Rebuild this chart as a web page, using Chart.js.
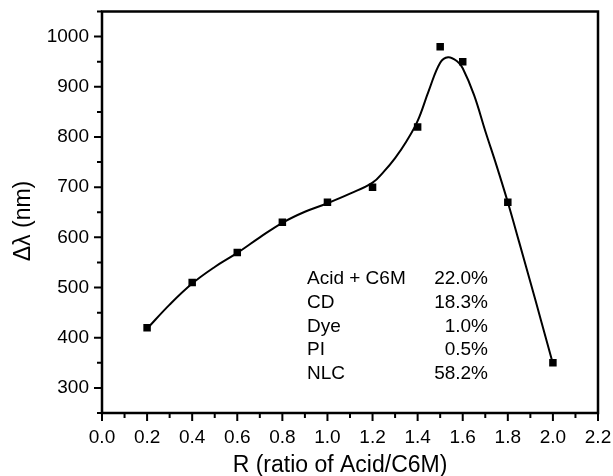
<!DOCTYPE html>
<html><head><meta charset="utf-8">
<script src="https://cdn.jsdelivr.net/npm/chart.js@4/dist/chart.umd.min.js"></script>
<style>html,body{margin:0;padding:0;background:#fff;}</style>
</head><body>
<canvas id="c" width="613" height="476"></canvas>
<script>
// measured points
const ratioR = [0.2, 0.4, 0.6, 0.8, 1.0, 1.2, 1.4, 1.5, 1.6, 1.8, 2.0];
const deltaLambda = [420, 510, 570, 630, 670, 700, 820, 980, 950, 670, 350];
// fitted smooth curve
const curveR = [0.2,0.3,0.4,0.5,0.6,0.7,0.8,0.9,1.0,1.1,1.2,1.25,1.3,1.35,1.4,1.45,1.5,1.535,1.575,1.6,1.65,1.7,1.75,1.8,1.85,1.9,1.95,2.0];
const curveVal = [418,466,508,541,569,600,629,651,668,687,709,731,758,791,832,893,948,959,951,937,884,812,743,670,591,511,430,348];
// axis ranges
const xRange = [0, 2.2];
const yRange = [250, 1050];
// text
const xTitle = 'R (ratio of Acid/C6M)';
const yTitle = '\u0394\u03bb (nm)';
const compNames = ['Acid + C6M', 'CD', 'Dye', 'PI', 'NLC'];
const compShares = ['22.0%', '18.3%', '1.0%', '0.5%', '58.2%'];

const FONT = '"Liberation Sans", Arial, sans-serif';

const frame = {
  id: 'frame',
  afterDraw(chart) {
    const {ctx, scales: {x, y}} = chart;
    const L = x.getPixelForValue(xRange[0]), R = x.getPixelForValue(xRange[1]);
    const T = y.getPixelForValue(yRange[1]), B = y.getPixelForValue(yRange[0]);
    ctx.save();
    ctx.strokeStyle = '#000';
    ctx.lineWidth = 2.5;
    ctx.beginPath();
    ctx.moveTo(L, T); ctx.lineTo(R, T); ctx.lineTo(R, B); ctx.lineTo(L, B); ctx.closePath();
    ctx.stroke();
    ctx.lineWidth = 2;
    ctx.beginPath();
    x.ticks.forEach(t => {
      const px = x.getPixelForValue(t.value);
      const len = t.label !== '' ? 8 : 5;
      ctx.moveTo(px, B); ctx.lineTo(px, B + len);
    });
    y.ticks.forEach(t => {
      const py = y.getPixelForValue(t.value);
      const len = t.label !== '' ? 8 : 5;
      ctx.moveTo(L, py); ctx.lineTo(L - len, py);
    });
    ctx.stroke();
    ctx.fillStyle = '#000';
    ctx.font = '23px ' + FONT;
    ctx.textAlign = 'center';
    ctx.textBaseline = 'middle';
    ctx.fillText(xTitle, 340, 466);
    ctx.save();
    ctx.translate(24, 221);
    ctx.rotate(-Math.PI / 2);
    ctx.fillText(yTitle, 0, 0);
    ctx.restore();
    ctx.font = '19px ' + FONT;
    compNames.forEach((n, i) => {
      const yy = 278.5 + i * 23.9;
      ctx.textAlign = 'left';
      ctx.fillText(n, 307, yy);
      ctx.textAlign = 'right';
      ctx.fillText(compShares[i], 488, yy);
    });
    ctx.restore();
  }
};

new Chart(document.getElementById('c'), {
  type: 'scatter',
  data: {
    datasets: [
      {
        data: curveR.map((r, i) => ({x: r, y: curveVal[i]})),
        showLine: true,
        borderColor: '#000',
        borderWidth: 2,
        pointRadius: 0,
        tension: 0.4,
        order: 2
      },
      {
        data: ratioR.map((r, i) => ({x: r, y: deltaLambda[i]})),
        showLine: false,
        pointStyle: 'rect',
        pointRadius: 5.3,
        pointBorderWidth: 0,
        backgroundColor: '#000',
        borderColor: '#000',
        order: 1
      }
    ]
  },
  options: {
    responsive: false,
    animation: false,
    devicePixelRatio: 1,
    layout: {padding: {left: 0, right: 15, top: 11.5, bottom: 0}},
    plugins: {legend: {display: false}, tooltip: {enabled: false}},
    scales: {
      x: {
        type: 'linear', min: xRange[0], max: xRange[1],
        grid: {display: false, drawTicks: false},
        border: {display: false},
        ticks: {
          stepSize: 0.1, autoSkip: false, maxRotation: 0, padding: 13,
          color: '#000', font: {family: FONT, size: 19},
          callback: v => (Math.round(v * 10) % 2 === 0 ? v.toFixed(1) : '')
        },
        afterFit: s => { s.height = 63; s.paddingLeft = 0; s.paddingRight = 0; s.paddingTop = 0; s.paddingBottom = 0; }
      },
      y: {
        type: 'linear', min: yRange[0], max: yRange[1],
        grid: {display: false, drawTicks: false},
        border: {display: false},
        ticks: {
          stepSize: 50, autoSkip: false, padding: 13,
          color: '#000', font: {family: FONT, size: 19},
          callback: v => (v % 100 === 0 && v >= 300 && v <= 1000 ? String(v) : '')
        },
        afterFit: s => { s.width = 102; s.paddingLeft = 0; s.paddingRight = 0; s.paddingTop = 0; s.paddingBottom = 0; }
      }
    }
  },
  plugins: [frame]
});
</script>
</body></html>
